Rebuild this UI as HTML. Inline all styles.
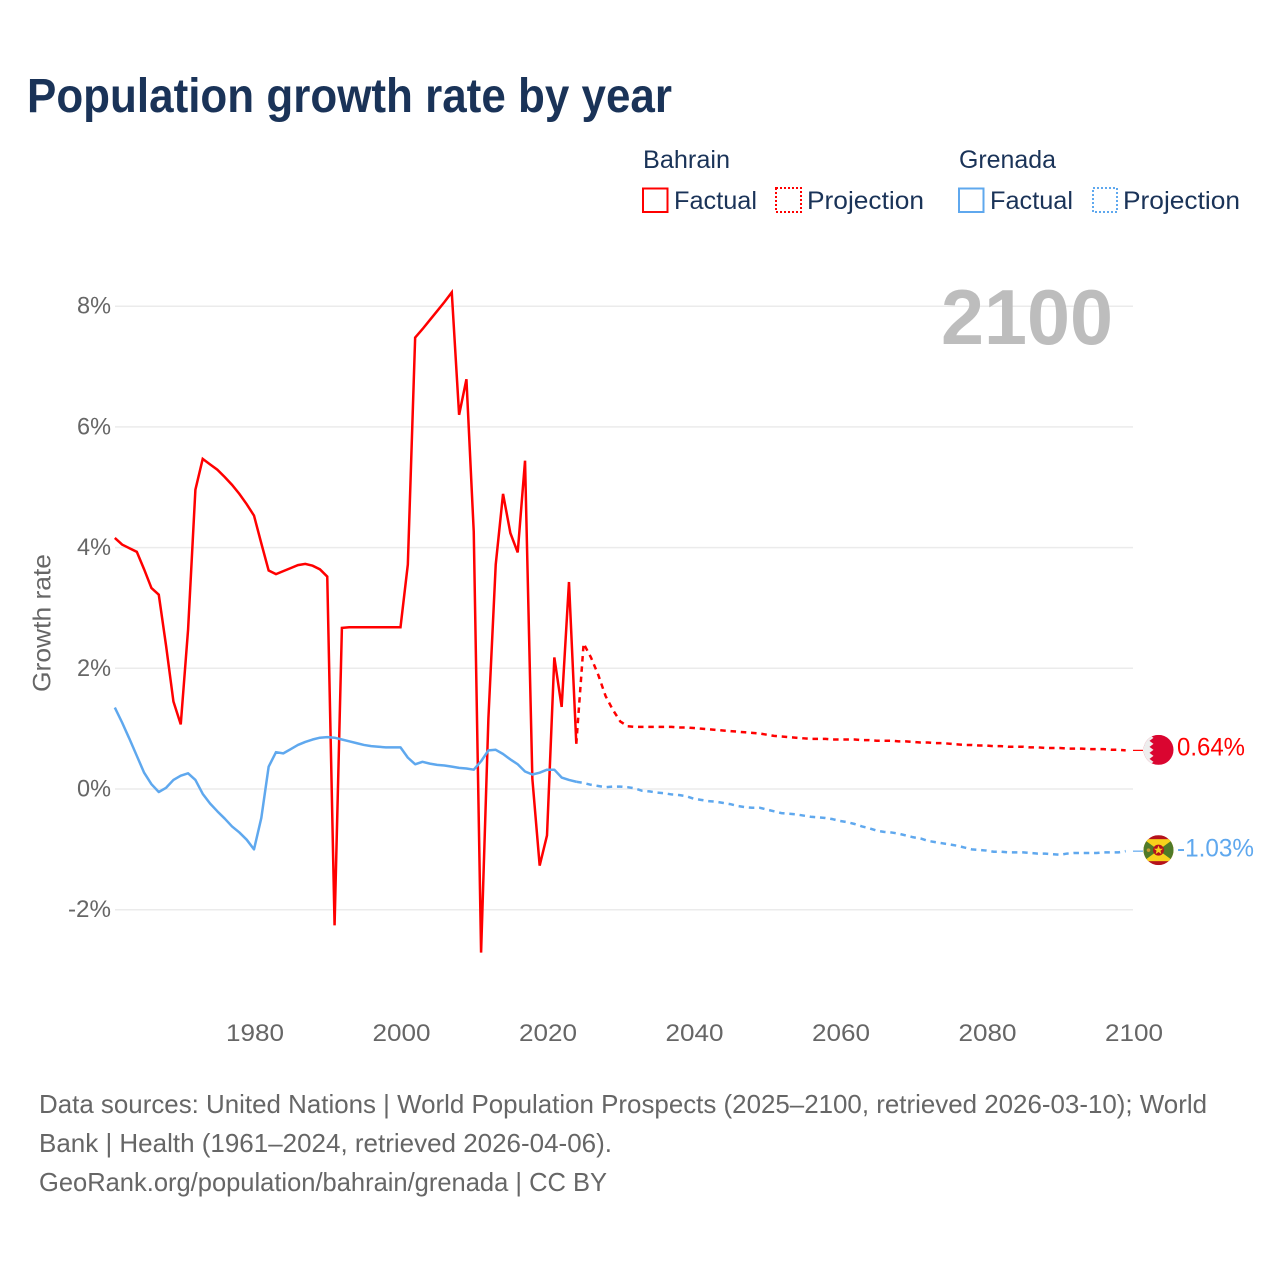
<!DOCTYPE html>
<html lang="en">
<head>
<meta charset="utf-8">
<title>Population growth rate by year</title>
<style>
html,body{margin:0;padding:0;background:#fff;}
svg{display:block;font-family:"Liberation Sans",sans-serif;}
</style>
</head>
<body>
<svg id="chart" xmlns="http://www.w3.org/2000/svg" width="1280" height="1280" viewBox="0 0 1280 1280">
  <rect x="0" y="0" width="1280" height="1280" fill="#ffffff"/>
  <text x="27" y="112" font-size="48" font-weight="700" fill="#1a3358" textLength="645" lengthAdjust="spacingAndGlyphs">Population growth rate by year</text>

  <g font-size="25" fill="#1a3358">
    <text x="643" y="168" textLength="87" lengthAdjust="spacingAndGlyphs">Bahrain</text>
    <text x="959" y="168" textLength="97" lengthAdjust="spacingAndGlyphs">Grenada</text>
    <rect x="643" y="188.500" width="24.500" height="23.500" fill="none" stroke="#ff0000" stroke-width="2"/>
    <text x="674" y="209" textLength="83" lengthAdjust="spacingAndGlyphs">Factual</text>
    <rect x="776" y="188" width="25" height="24" fill="none" stroke="#ff0000" stroke-width="2" stroke-dasharray="2 2"/>
    <text x="807" y="209" textLength="117" lengthAdjust="spacingAndGlyphs">Projection</text>
    <rect x="959" y="188.500" width="24.500" height="23.500" fill="none" stroke="#5fa8ee" stroke-width="2"/>
    <text x="990" y="209" textLength="83" lengthAdjust="spacingAndGlyphs">Factual</text>
    <rect x="1093" y="188" width="24" height="24" fill="none" stroke="#5fa8ee" stroke-width="2" stroke-dasharray="2 2"/>
    <text x="1123" y="209" textLength="117" lengthAdjust="spacingAndGlyphs">Projection</text>
  </g>

  <g id="grid"></g>
  <g id="yticks" font-size="24.500" fill="#666666"></g>
  <g id="xticks" font-size="24.500" fill="#666666"></g>
  <text transform="translate(50.500,623) rotate(-90)" text-anchor="middle" font-size="25" fill="#666666" textLength="138" lengthAdjust="spacingAndGlyphs">Growth rate</text>
  <text x="941" y="344" font-size="78" font-weight="700" fill="#bdbdbd" textLength="172" lengthAdjust="spacingAndGlyphs">2100</text>

  <g id="series"></g>
  <g id="endmarks"></g>

  <defs>
    <clipPath id="flag-clip"><circle cx="0" cy="0" r="15"/></clipPath>
  </defs>
  <g id="flag-bahrain">
    <g clip-path="url(#flag-clip)">
      <rect x="-15" y="-15" width="30" height="30" fill="#da0530"/>
      <polygon points="-15,-15 -9,-15 -5,-12 -9,-9 -5,-6 -9,-3 -5,0 -9,3 -5,6 -9,9 -5,12 -9,15 -15,15" fill="#eeeeee"/>
    </g>
  </g>
  <g id="flag-grenada">
    <g clip-path="url(#flag-clip)">
      <rect x="-15" y="-15" width="30" height="30" fill="#b5121b"/>
      <rect x="-15" y="-11" width="30" height="22" fill="#f7d21c"/>
      <polygon points="-15,-11 0,0 -15,11" fill="#4f7a28"/>
      <polygon points="15,-11 0,0 15,11" fill="#4f7a28"/>
      <circle cx="0" cy="0" r="5.500" fill="#b5121b"/>
      <polygon points="0,-4.500 1.300,-1.400 4.500,-1.400 1.900,0.600 2.800,3.800 0,1.900 -2.800,3.800 -1.900,0.600 -4.500,-1.400 -1.300,-1.400" fill="#f7d21c"/>
      <circle cx="-10" cy="0" r="1.800" fill="#c99a2e"/>
    </g>
  </g>

  <g font-size="26" fill="#666666">
    <text x="39" y="1113" textLength="1168" lengthAdjust="spacingAndGlyphs">Data sources: United Nations | World Population Prospects (2025–2100, retrieved 2026-03-10); World</text>
    <text x="39" y="1152" textLength="573" lengthAdjust="spacingAndGlyphs">Bank | Health (1961–2024, retrieved 2026-04-06).</text>
    <text x="39" y="1191" textLength="568" lengthAdjust="spacingAndGlyphs">GeoRank.org/population/bahrain/grenada | CC BY</text>
  </g>
</svg>

<script>
const yTickValues = [8, 6, 4, 2, 0, -2];
const yTickLabels = ["8%", "6%", "4%", "2%", "0%", "-2%"];
const xTickYears = [1980, 2000, 2020, 2040, 2060, 2080, 2100];
const xTickLabels = ["1980", "2000", "2020", "2040", "2060", "2080", "2100"];

const factualStartYear = 1961;
const projectionStartYear = 2024;

const bahrainFactual = [
  4.16, 4.05, 3.99, 3.93, 3.64, 3.33, 3.22, 2.37, 1.45, 1.07,
  2.64, 4.96, 5.47, 5.38, 5.29, 5.17, 5.04, 4.89, 4.72, 4.53,
  4.07, 3.62, 3.56, 3.61, 3.66, 3.71, 3.73, 3.70, 3.64, 3.52,
  -2.26, 2.67, 2.68, 2.68, 2.68, 2.68, 2.68, 2.68, 2.68, 2.68,
  3.72, 7.48, 7.62, 7.77, 7.92, 8.07, 8.23, 6.20, 6.79, 4.26,
  -2.71, 1.17, 3.72, 4.89, 4.24, 3.92, 5.44, 0.17, -1.27, -0.77,
  2.18, 1.36, 3.43, 0.75
];
const bahrainProjection = [
  0.75, 2.41, 2.18, 1.89, 1.54, 1.31, 1.12, 1.04, 1.03, 1.03,
  1.03, 1.03, 1.03, 1.03, 1.02, 1.02, 1.01, 1.00, 0.99, 0.98,
  0.97, 0.96, 0.95, 0.94, 0.93, 0.92, 0.90, 0.88, 0.87, 0.86,
  0.85, 0.84, 0.83, 0.83, 0.83, 0.82, 0.82, 0.82, 0.82, 0.81,
  0.81, 0.80, 0.80, 0.80, 0.79, 0.79, 0.78, 0.77, 0.77, 0.76,
  0.76, 0.75, 0.74, 0.73, 0.73, 0.72, 0.72, 0.71, 0.71, 0.70,
  0.70, 0.70, 0.69, 0.69, 0.68, 0.68, 0.68, 0.67, 0.67, 0.67,
  0.66, 0.66, 0.66, 0.65, 0.65, 0.64
];

const grenadaFactual = [
  1.35, 1.10, 0.83, 0.55, 0.27, 0.08, -0.05, 0.02, 0.15, 0.22,
  0.26, 0.15, -0.08, -0.24, -0.37, -0.49, -0.62, -0.72, -0.84, -1.00,
  -0.48, 0.37, 0.61, 0.59, 0.66, 0.73, 0.78, 0.82, 0.85, 0.86,
  0.85, 0.82, 0.79, 0.76, 0.73, 0.71, 0.70, 0.69, 0.69, 0.69,
  0.52, 0.41, 0.45, 0.42, 0.40, 0.39, 0.37, 0.35, 0.34, 0.32,
  0.46, 0.64, 0.65, 0.58, 0.49, 0.41, 0.29, 0.24, 0.27, 0.32,
  0.32, 0.19, 0.15, 0.12
];
const grenadaProjection = [
  0.12, 0.10, 0.07, 0.05, 0.03, 0.04, 0.04, 0.03, 0.01, -0.03,
  -0.04, -0.06, -0.07, -0.09, -0.10, -0.12, -0.16, -0.18, -0.20, -0.21,
  -0.23, -0.25, -0.28, -0.30, -0.31, -0.31, -0.34, -0.37, -0.40, -0.41,
  -0.42, -0.44, -0.46, -0.47, -0.48, -0.50, -0.53, -0.55, -0.58, -0.62,
  -0.65, -0.69, -0.71, -0.72, -0.74, -0.77, -0.80, -0.82, -0.86, -0.88,
  -0.90, -0.92, -0.94, -0.97, -1.00, -1.01, -1.02, -1.04, -1.04, -1.05,
  -1.05, -1.05, -1.06, -1.07, -1.07, -1.08, -1.09, -1.07, -1.06, -1.06,
  -1.06, -1.06, -1.05, -1.05, -1.05, -1.03
];

const SVG_NS = "http://www.w3.org/2000/svg";
const RED = "#ff0000";
const BLUE = "#5fa8ee";

function xScale(year) { return 254 + (year - 1980) * 7.325; }
function yScale(value) { return 789 - value * 60.35; }

function make(tag, parent, attrs) {
  const el = document.createElementNS(SVG_NS, tag);
  for (const k in attrs) el.setAttribute(k, attrs[k]);
  parent.appendChild(el);
  return el;
}

function pathFrom(values, startYear) {
  return values.map(function (v, i) {
    return (i ? "L" : "M") + xScale(startYear + i).toFixed(2) + " " + yScale(v).toFixed(2);
  }).join(" ");
}

const gridLayer = document.getElementById("grid");
const yLayer = document.getElementById("yticks");
const xLayer = document.getElementById("xticks");
const seriesLayer = document.getElementById("series");
const endLayer = document.getElementById("endmarks");

yTickValues.forEach(function (v, i) {
  const line = make("line", gridLayer, { x1: 115, x2: 1133, y1: yScale(v), y2: yScale(v), stroke: "#ebebeb", "stroke-width": 1.5 });
  
  
  const label = make("text", yLayer, { x: 111, y: yScale(v) + 7.5, "text-anchor": "end", textLength: yTickLabels[i].length === 3 ? 43 : 34, lengthAdjust: "spacingAndGlyphs" });
  label.textContent = yTickLabels[i];
  
  
});

xTickYears.forEach(function (year, i) {
  const label = make("text", xLayer, { x: xScale(year) + 1, y: 1041, "text-anchor": "middle", textLength: 58, lengthAdjust: "spacingAndGlyphs" });
  label.textContent = xTickLabels[i];
  
  
});

const projBahrain = make("path", seriesLayer, { d: pathFrom(bahrainProjection, projectionStartYear), fill: "none", stroke: RED, "stroke-width": 2.5, "stroke-dasharray": "5.5 4.8", "stroke-linejoin": "round" });



const projGrenada = make("path", seriesLayer, { d: pathFrom(grenadaProjection, projectionStartYear), fill: "none", stroke: BLUE, "stroke-width": 2.5, "stroke-dasharray": "5.5 4.8", "stroke-linejoin": "round" });



const factBahrain = make("path", seriesLayer, { d: pathFrom(bahrainFactual, factualStartYear), fill: "none", stroke: RED, "stroke-width": 2.5, "stroke-linejoin": "miter", "stroke-miterlimit": 3 });



const factGrenada = make("path", seriesLayer, { d: pathFrom(grenadaFactual, factualStartYear), fill: "none", stroke: BLUE, "stroke-width": 2.5, "stroke-linejoin": "round" });



const bahrainLast = bahrainProjection[bahrainProjection.length - 1];
const grenadaLast = grenadaProjection[grenadaProjection.length - 1];

const connectorBahrain = make("line", endLayer, { x1: xScale(2100), x2: 1143, y1: yScale(bahrainLast), y2: yScale(bahrainLast), stroke: RED, "stroke-width": 1.2 });



const connectorGrenada = make("line", endLayer, { x1: xScale(2100), x2: 1143, y1: yScale(grenadaLast), y2: yScale(grenadaLast), stroke: BLUE, "stroke-width": 1.2 });



const labelBahrain = make("text", endLayer, { x: 1177, y: yScale(bahrainLast) + 5, "font-size": 25, fill: RED, textLength: 68, lengthAdjust: "spacingAndGlyphs" });
labelBahrain.textContent = bahrainLast.toFixed(2) + "%";



const labelGrenada = make("text", endLayer, { x: 1177, y: yScale(grenadaLast) + 5.5, "font-size": 25, fill: BLUE, textLength: 77, lengthAdjust: "spacingAndGlyphs" });
labelGrenada.textContent = grenadaLast.toFixed(2) + "%";



document.getElementById("flag-bahrain").setAttribute("transform", "translate(1158.5," + (yScale(bahrainLast) - 0.5) + ")");
document.getElementById("flag-grenada").setAttribute("transform", "translate(1158.5," + (yScale(grenadaLast) - 1) + ")");
</script>
</body>
</html>
